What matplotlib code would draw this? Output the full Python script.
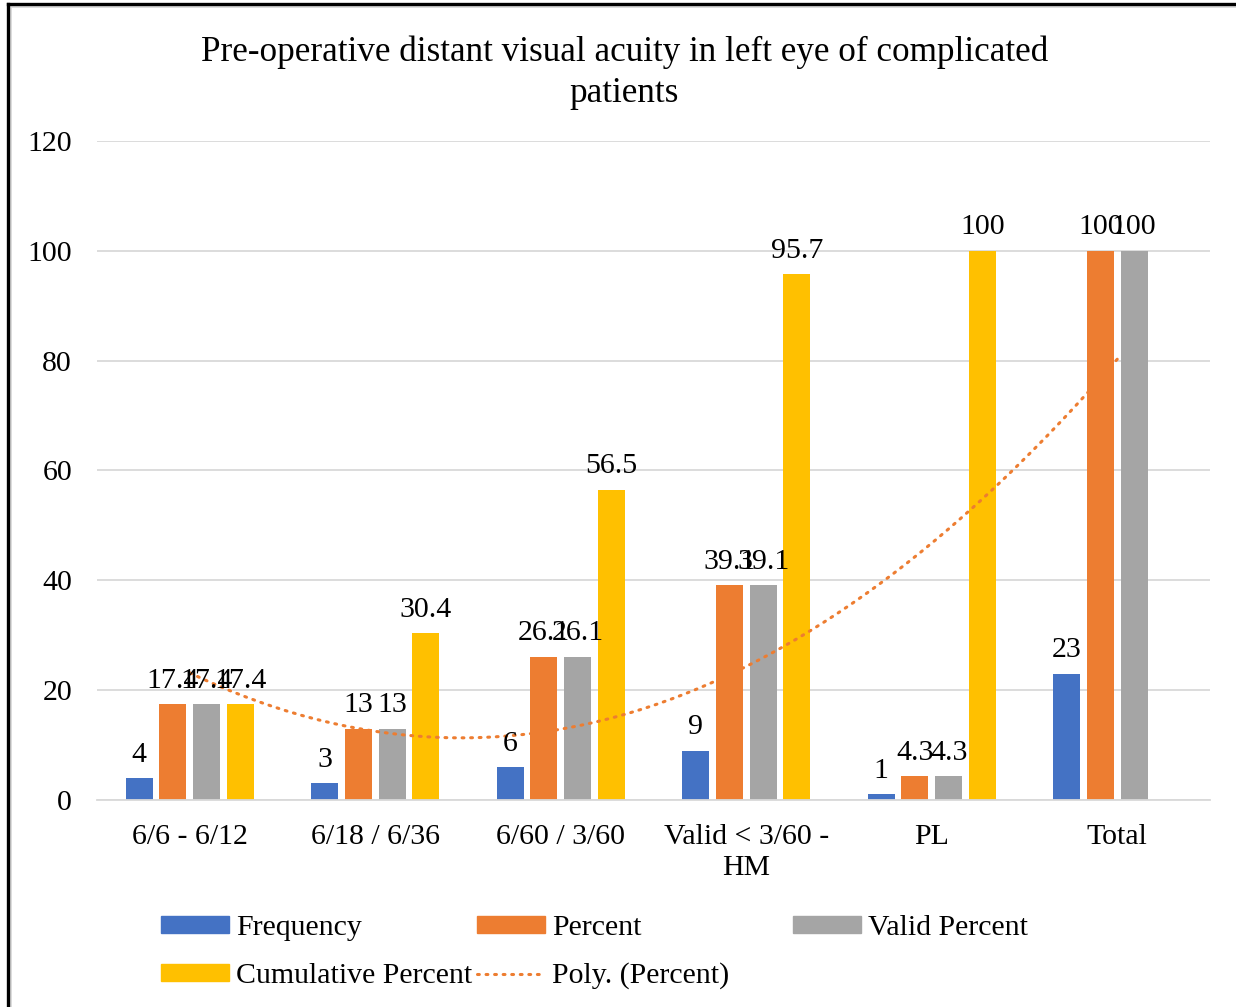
import numpy as np
import matplotlib
matplotlib.use("Agg")
import matplotlib.pyplot as plt
from matplotlib.lines import Line2D
from matplotlib.patches import Patch

plt.rcParams['font.family'] = ['Liberation Serif', 'DejaVu Serif']

categories = ["6/6 - 6/12", "6/18 / 6/36", "6/60 / 3/60", "Valid < 3/60 -\nHM", "PL", "Total"]
frequency = [4, 3, 6, 9, 1, 23]
percent = [17.4, 13, 26.1, 39.1, 4.3, 100]
valid_percent = [17.4, 13, 26.1, 39.1, 4.3, 100]
cumulative = [17.4, 30.4, 56.5, 95.7, 100, None]

series = [("Frequency", frequency, "#4472C4"),
          ("Percent", percent, "#ED7D31"),
          ("Valid Percent", valid_percent, "#A5A5A5"),
          ("Cumulative Percent", cumulative, "#FFC000")]

fig = plt.figure(figsize=(12.36, 10.07), dpi=100)
ax = fig.add_axes([0.0785, 0.2056, 0.9005, 0.6544])

x = np.arange(len(categories))
step = 0.182
width = 0.146
fs = 21.5

for i, (name, vals, col) in enumerate(series):
    off = (i - 1.5) * step
    for xi, v in zip(x, vals):
        if v is None:
            continue
        ax.bar(xi + off, v, width, color=col, zorder=2)
        ax.annotate(f"{v:g}", (xi + off, v), xytext=(0, 7.5), textcoords="offset points",
                    ha="center", va="bottom", fontsize=fs, zorder=4)

# polynomial (order 2) trendline of Percent
coef = np.polyfit(x, percent, 2)
xs = np.linspace(x[0], x[-1], 200)
ax.plot(xs, np.polyval(coef, xs), color="#ED7D31", lw=2.2, linestyle=(0, (0.6, 2.2)),
        dash_capstyle="round", zorder=3)

ax.set_ylim(0, 120)
ax.set_xlim(-0.5, len(categories) - 0.5)
ax.set_yticks(range(0, 121, 20))
ax.yaxis.grid(True, color="#D9D9D9", lw=1.3, zorder=0)
ax.set_axisbelow(True)
ax.tick_params(length=0, labelsize=fs, pad=18)
ax.tick_params(axis="x", pad=17)
ax.set_xticks(x)
ax.set_xticklabels(categories, fontsize=fs, linespacing=1.26)
for s in ["top", "right", "left"]:
    ax.spines[s].set_visible(False)
ax.spines["bottom"].set_color("#D9D9D9")
ax.spines["bottom"].set_linewidth(1.3)

fig.text(0.505, 1 - 72.5 / 1007, "Pre-operative distant visual acuity in left eye of complicated\npatients",
         ha="center", va="center", fontsize=25.3, linespacing=1.33)

# legend, laid out like Excel's evenly spaced entries
entries = [(Patch(color="#4472C4"), "Frequency", 161, 928),
           (Patch(color="#ED7D31"), "Percent", 477, 928),
           (Patch(color="#A5A5A5"), "Valid Percent", 793, 928),
           (Patch(color="#FFC000"), "Cumulative Percent", 161, 976),
           (Line2D([], [], color="#ED7D31", lw=2.2, linestyle=(0, (0.6, 2.2)),
                   dash_capstyle="round"), "Poly. (Percent)", 477, 976)]
for h, lab, px, py in entries:
    fig.legend(handles=[h], labels=[lab], loc="center left",
               bbox_to_anchor=(px / 1236, 1 - py / 1007), frameon=False, fontsize=fs,
               handlelength=2.28, handleheight=0.5, handletextpad=0.23,
               borderpad=0, borderaxespad=0)

# chart border
fig.add_artist(Line2D([11 / 1236, 11 / 1236], [0, 1 - 7 / 1007], color="#D9D9D9", lw=1.3))
fig.add_artist(Line2D([11 / 1236, 1], [1 - 7 / 1007, 1 - 7 / 1007], color="#D9D9D9", lw=1.3))
fig.add_artist(Line2D([8 / 1236, 8 / 1236], [0, 1 - 4 / 1007], color="black", lw=2.4))
fig.add_artist(Line2D([8 / 1236, 1], [1 - 4 / 1007, 1 - 4 / 1007], color="black", lw=2.4))

fig.savefig("out.png", dpi=100)
